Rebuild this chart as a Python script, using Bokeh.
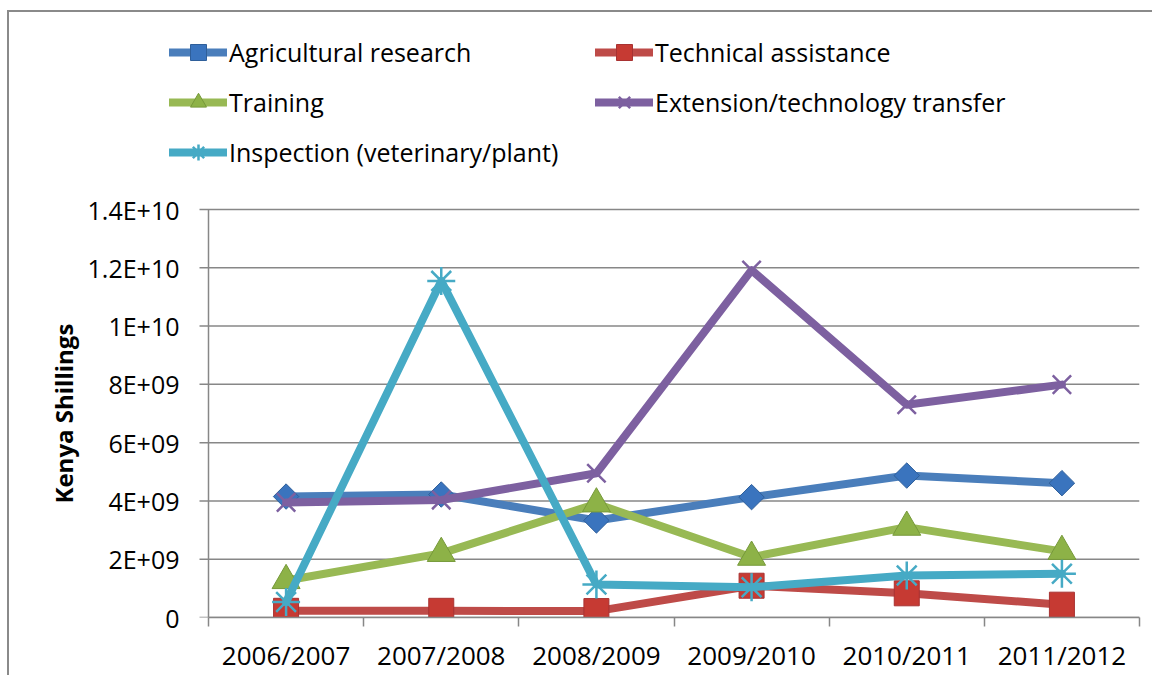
from bokeh.plotting import figure
from bokeh.models import FixedTicker, Legend, LegendItem, Range1d, Title
from bokeh.embed import file_html
from bokeh.resources import INLINE
import math

# ---- data ----
years = ["2006/2007", "2007/2008", "2008/2009", "2009/2010", "2010/2011", "2011/2012"]
agri_research = [4.15e9, 4.22e9, 3.33e9, 4.13e9, 4.87e9, 4.61e9]
technical_assistance = [0.23e9, 0.23e9, 0.22e9, 1.09e9, 0.83e9, 0.44e9]
training = [1.27e9, 2.20e9, 3.90e9, 2.07e9, 3.10e9, 2.27e9]
extension = [3.95e9, 4.03e9, 4.95e9, 11.92e9, 7.30e9, 7.99e9]
inspection = [0.53e9, 11.55e9, 1.13e9, 1.04e9, 1.44e9, 1.50e9]

y_ticks = [0, 2e9, 4e9, 6e9, 8e9, 10e9, 12e9, 14e9]
y_tick_labels = ["0", "2E+09", "4E+09", "6E+09", "8E+09", "1E+10", "1.2E+10", "1.4E+10"]

series_names = ["Agricultural research", "Technical assistance", "Training",
                "Extension/technology transfer", "Inspection (veterinary/plant)"]
y_title = "Kenya Shillings"

x = [i + 0.5 for i in range(len(years))]
n = len(years)
y_max = y_ticks[-1]

GRID = "#878787"
FONT = "Open Sans"

# data area is 931x408 px; the frame is extended up/left so the legend fits inside it
PLOT_W, PLOT_H = 931, 408
EXT_LEFT, EXT_TOP = 39, 189
px_per_x = PLOT_W / n
x_lo = -EXT_LEFT / px_per_x
y_hi = y_max * (PLOT_H + EXT_TOP) / PLOT_H
TICK_PX = 9

p = figure(frame_width=PLOT_W + EXT_LEFT, frame_height=PLOT_H + EXT_TOP,
           min_border_left=160, min_border_top=8, min_border_right=13, min_border_bottom=50,
           x_range=Range1d(x_lo, n), y_range=Range1d(0, y_hi),
           output_backend="svg", toolbar_location=None,
           styles={"border-left": "2px solid #8a8a8a", "border-top": "2px solid #8a8a8a",
                   "margin-left": "7px", "margin-top": "10px"})
p.outline_line_color = None
p.grid.visible = False

# horizontal gridlines at the value ticks (extended a few px left of the axis as outward ticks)
tick_x0 = -TICK_PX / px_per_x
p.segment(x0=[tick_x0] * len(y_ticks), y0=y_ticks, x1=[n] * len(y_ticks), y1=y_ticks,
          line_color=GRID, line_width=1.5)
# value-axis line along x = 0, from 0 to the top tick
p.segment(x0=[0], y0=[y_ticks[0]], x1=[0], y1=[y_max], line_color=GRID, line_width=1.5)

# y axis: tick labels only
p.yaxis.bounds = (0, y_max)
p.yaxis.ticker = FixedTicker(ticks=y_ticks)
p.yaxis.major_label_overrides = {int(t): lab for t, lab in zip(y_ticks, y_tick_labels)}
p.yaxis.axis_line_color = None
p.yaxis.major_tick_line_color = None
p.yaxis.major_tick_out = 0
p.yaxis.major_tick_in = 0
p.yaxis.minor_tick_line_color = None
p.yaxis.major_label_text_font = FONT
p.yaxis.major_label_text_font_size = "25px"
p.yaxis.major_label_text_color = "black"
p.yaxis.major_label_standoff = -10

# y title, centred on the value axis (not on the extended frame)
p.add_layout(Title(text=y_title, align="left", offset=114, standoff=10,
                   text_font=FONT, text_font_size="24px", text_font_style="bold",
                   text_color="black"), "left")

# x axis
p.xaxis.bounds = (0, n)
p.xaxis.ticker = FixedTicker(ticks=x, minor_ticks=list(range(n + 1)))
p.xaxis.major_label_overrides = {xi: lab for xi, lab in zip(x, years)}
p.xaxis.axis_line_color = GRID
p.xaxis.axis_line_width = 1.5
p.xaxis.major_tick_line_color = None
p.xaxis.major_tick_out = 0
p.xaxis.major_tick_in = 0
p.xaxis.minor_tick_line_color = GRID
p.xaxis.minor_tick_line_width = 1.5
p.xaxis.minor_tick_out = TICK_PX
p.xaxis.minor_tick_in = 0
p.xaxis.major_label_text_font = FONT
p.xaxis.major_label_text_font_size = "26px"
p.xaxis.major_label_text_color = "black"
p.xaxis.major_label_standoff = 10

series = [
    (agri_research, "#4A7EBB", dict(marker="square", size=18, angle=math.pi / 4,
                                     fill_color="#3A74BE", line_color="#2F5F9A", line_width=1)),
    (technical_assistance, "#BE4B48", dict(marker="square", size=25,
                                            fill_color="#C63A33", line_color="#A83232", line_width=1)),
    (training, "#98B954", dict(marker="triangle", size=28,
                                fill_color="#8DB247", line_color="#76993A", line_width=1)),
    (extension, "#7D60A0", dict(marker="x", size=26, line_color="#7D60A0", line_width=2.5)),
    (inspection, "#46AAC5", dict(marker="asterisk", size=28, line_color="#46AAC5", line_width=2.5)),
]

items = {}
for (vals, col, mk), name in zip(series, series_names):
    lr = p.line(x, vals, line_color=col, line_width=8, line_join="round", line_cap="round")
    sr = p.scatter(x, vals, **mk)
    items[name] = LegendItem(label=name, renderers=[lr, sr])

# legend fills column by column: left column first, then right column
order = [series_names[0], series_names[2], series_names[4], series_names[1], series_names[3]]
legend = Legend(items=[items[k] for k in order], ncols=2, location=(0, 440),
                glyph_width=58, glyph_height=40, label_height=50, label_width=366,
                label_standoff=2, spacing=0, padding=0, margin=0,
                label_text_font=FONT, label_text_font_size="25px", label_text_color="black",
                border_line_color=None, background_fill_alpha=0)
p.add_layout(legend, "center")

open("out.html", "w").write(file_html(p, INLINE))
